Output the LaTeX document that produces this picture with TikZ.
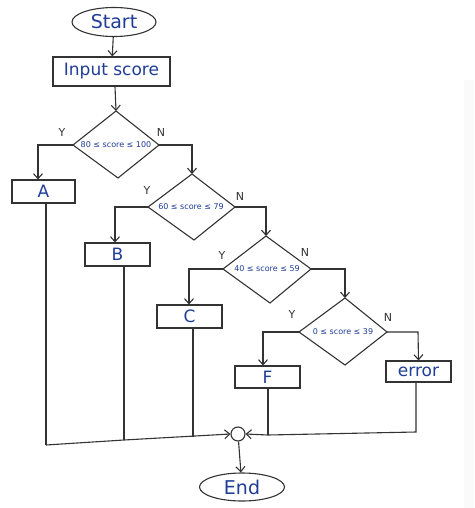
\documentclass[tikz,border=0pt]{standalone}
\usepackage{fontspec}
\setmainfont{DejaVu Sans}
\usetikzlibrary{shapes.geometric,arrows.meta}
\definecolor{ink}{HTML}{333333}
\definecolor{pen}{HTML}{1F3C96}
\tikzset{
  line/.style={draw=ink, line width=1.1pt},
  arr/.style={line, -{Straight Barb[length=5pt,width=9pt]}},
  term/.style={line, ellipse, minimum width=84pt, minimum height=29pt, inner sep=0pt, text=pen, font=\fontsize{19}{19}\selectfont},
  proc/.style={line, rectangle, inner sep=0pt, text=pen, font=\fontsize{17}{17}\selectfont},
  lbl/.style={text=ink, font=\fontsize{11}{11}\selectfont, inner sep=0pt},
  dtext/.style={text=pen, font=\fontsize{8}{8}\selectfont, inner sep=0pt},
}
\begin{document}
\begin{tikzpicture}[x=1pt,y=-1pt]
\useasboundingbox (0,0) rectangle (474,508);
\fill[black!2] (464,80) rectangle (474,508);
% terminals and boxes
\node[term] (start) at (114,22) {Start};
\node[proc, minimum width=117pt, minimum height=29pt] (input) at (111.5,71.5) {Input score};
% diamonds
\draw[line] (116,111) coordinate (d1t) -- (159,145) coordinate (d1r) -- (118,178) -- (73,145) coordinate (d1l) -- cycle;
\node[dtext] (d1) at (116,145) {80 ≤ score ≤ 100};
\draw[line] (192,174) coordinate (d2t) -- (235,207) coordinate (d2r) -- (194,240) -- (148,207) coordinate (d2l) -- cycle;
\node[dtext] (d2) at (191,207) {60 ≤ score ≤ 79};
\draw[line] (266,236) coordinate (d3t) -- (311,269) coordinate (d3r) -- (270,303) -- (223,269) coordinate (d3l) -- cycle;
\node[dtext] (d3) at (267,269) {40 ≤ score ≤ 59};
\draw[line] (345,298) coordinate (d4t) -- (387,332) coordinate (d4r) -- (345,365) -- (299,332) coordinate (d4l) -- cycle;
\node[dtext] (d4) at (343,332) {0 ≤ score ≤ 39};
% result boxes
\node[proc, minimum width=63pt, minimum height=23pt] (A) at (43.5,191.5) {A};
\node[proc, minimum width=65pt, minimum height=23pt] (B) at (117.5,254.5) {B};
\node[proc, minimum width=65pt, minimum height=23pt] (C) at (189.5,316.5) {C};
\node[proc, minimum width=65pt, minimum height=22pt] (F) at (267.5,377) {F};
\node[proc, minimum width=65pt, minimum height=21pt] (err) at (418.5,371.5) {error};
% junction and end
\node[line, circle, minimum size=14pt, inner sep=0pt] (j) at (238,434) {};
\node[term, minimum width=85pt, minimum height=28pt] (end) at (242,487) {End};
% Y / N labels
\node[lbl] (y1) at (62,132) {Y};
\node[lbl] (n1) at (161,132) {N};
\node[lbl] (y2) at (147,190) {Y};
\node[lbl] (n2) at (240,196) {N};
\node[lbl] (y3) at (222,255) {Y};
\node[lbl] (n3) at (305,252) {N};
\node[lbl] (y4) at (292,314) {Y};
\node[lbl] (n4) at (388,317) {N};
% connectors
\draw[arr] (start) -- (input);
\draw[arr] (input.south -| 115,0) -- (d1t);
\draw[arr] (d1l) -- (38,145) -- (A.north -| 38,0);
\draw[arr] (d1r) -- (192,145) -- (d2t);
\draw[arr] (d2l) -- (115,207) -- (B.north -| 115,0);
\draw[arr] (d2r) -- (266,207) -- (d3t);
\draw[arr] (d3l) -- (189,269) -- (C.north -| 189,0);
\draw[arr] (d3r) -- (345,269) -- (d4t);
\draw[arr] (d4l) -- (263,332) -- (F.north -| 263,0);
\draw[arr] (d4r) -- (418,332) -- (err.north);
% merge lines
\draw[line] (A.south -| 46,0) -- (46,445);
\draw[line] (B.south -| 124,0) -- (124,440);
\draw[line] (C.south -| 193,0) -- (193,437);
\draw[arr] (46,445) -- (124,440) -- (j.west);
\draw[line] (F.south -| 268,0) -- (268,435);
\draw[line] (err.south -| 416,0) -- (416,432) -- (268,435);
\draw[arr] (268,435) -- (j.east);
\draw[arr] (j) -- (end);
\end{tikzpicture}
\end{document}
